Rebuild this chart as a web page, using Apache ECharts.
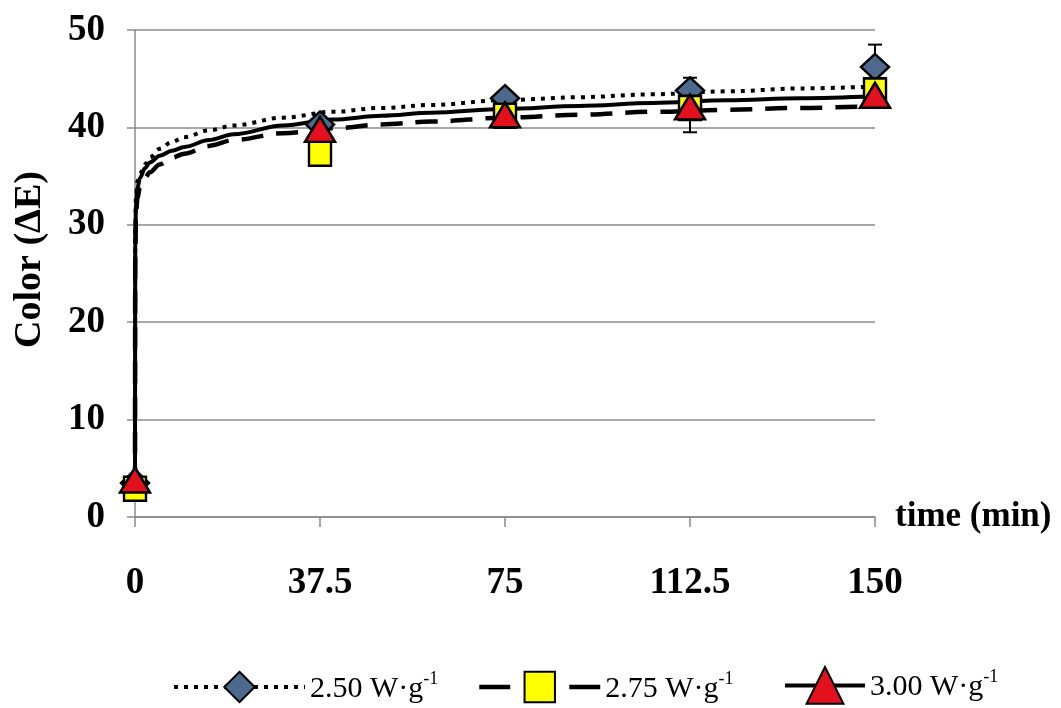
<!DOCTYPE html>
<html>
<head>
<meta charset="utf-8">
<script src="https://cdn.jsdelivr.net/npm/echarts@6/dist/echarts.min.js"></script>
<style>
  html, body { margin: 0; padding: 0; background: #fff; }
  #chart { width: 1061px; height: 708px; }
</style>
</head>
<body>
<div id="chart"></div>
<script>
// Sampling times (min) and measured colour change ΔE for each power level
const timePoints = [0, 37.5, 75, 112.5, 150];
const color250 = [3.5, 40.3, 43.0, 43.8, 46.2];
const color275 = [2.9, 37.3, 41.2, 42.0, 43.8];
const color300 = [3.8, 39.8, 41.3, 42.1, 43.3];

// Standard deviations of the measurements
const err250 = [0.4, 0.8, 0.6, 1.3, 2.3];
const err275 = [0.3, 0.6, 0.5, 2.5, 0.8];
const err300 = [0.4, 0.7, 0.6, 1.0, 0.7];

// Fitted kinetic curves, sampled along the time axis
const fitTime = [0, 0.05, 0.2, 0.5, 1, 2, 3, 5, 7.5, 10, 15, 20, 30, 40, 50, 60, 75, 90, 105, 120, 135, 150];
const fit250 = [3.5, 29, 33, 34.5, 35.2, 36.2, 36.9, 37.8, 38.5, 39.0, 39.7, 40.2, 41.0, 41.6, 42.0, 42.3, 42.8, 43.1, 43.4, 43.7, 44.0, 44.2];
const fit275 = [2.9, 27, 31, 32.8, 33.8, 34.8, 35.4, 36.2, 36.9, 37.3, 38.1, 38.7, 39.4, 39.9, 40.3, 40.6, 41.0, 41.3, 41.6, 41.8, 42.0, 42.2];
const fit300 = [3.8, 28, 32, 33.8, 34.8, 35.8, 36.4, 37.1, 37.6, 38.0, 38.7, 39.3, 40.2, 40.8, 41.2, 41.5, 41.9, 42.2, 42.5, 42.8, 43.0, 43.2];

// Axis ticks
const xTicks = [0, 37.5, 75, 112.5, 150];
const yTicks = [0, 10, 20, 30, 40, 50];

const seriesNames = ['2.50 W·g-1', '2.75 W·g-1', '3.00 W·g-1'];

const FONT = '"Liberation Serif", "Times New Roman", serif';

function pairs(xs, ys) { return xs.map((x, i) => [x, ys[i]]); }
function errData(xs, ys, es) { return xs.map((x, i) => [x, ys[i] - es[i], ys[i] + es[i]]); }

function errorBars(name, data) {
  return {
    type: 'custom',
    name: name,
    z: 3,
    data: data,
    renderItem: function (params, api) {
      const x = api.value(0);
      const lo = api.coord([x, api.value(1)]);
      const hi = api.coord([x, api.value(2)]);
      const cap = 7;
      const style = { stroke: '#000', lineWidth: 2 };
      return {
        type: 'group',
        children: [
          { type: 'line', shape: { x1: lo[0], y1: lo[1], x2: hi[0], y2: hi[1] }, style: style },
          { type: 'line', shape: { x1: lo[0] - cap, y1: lo[1], x2: lo[0] + cap, y2: lo[1] }, style: style },
          { type: 'line', shape: { x1: hi[0] - cap, y1: hi[1], x2: hi[0] + cap, y2: hi[1] }, style: style }
        ]
      };
    }
  };
}

const styles = [
  { symbol: 'diamond', size: [28, 26], fill: '#4d6a8e', line: { type: [4, 6], width: 4 } },
  { symbol: 'rect', size: [22, 24], fill: '#ffff00', line: { type: [22, 13], width: 4.5 } },
  { symbol: 'triangle', size: [30, 25], fill: '#e3101e', line: { type: 'solid', width: 4 } }
];
const fits = [fit250, fit275, fit300];
const points = [color250, color275, color300];
const errs = [err250, err275, err300];

const series = [];
// fitted curves (also provide the legend icons)
styles.forEach((s, i) => {
  series.push({
    type: 'line',
    name: seriesNames[i],
    z: 2,
    data: pairs(fitTime, fits[i]),
    smooth: 0.35,
    smoothMonotone: 'x',
    showSymbol: false,
    symbol: s.symbol,
    itemStyle: { color: s.fill, borderColor: '#000', borderWidth: 2.5 },
    lineStyle: { color: '#000', width: s.line.width, type: s.line.type, cap: 'butt' },
    emphasis: { disabled: true },
    silent: true
  });
});
// error bars
styles.forEach((s, i) => {
  series.push(errorBars(seriesNames[i], errData(timePoints, points[i], errs[i])));
});
// measured points
styles.forEach((s, i) => {
  series.push({
    type: 'scatter',
    name: seriesNames[i],
    z: 4,
    data: pairs(timePoints, points[i]),
    symbol: s.symbol,
    symbolSize: s.size,
    itemStyle: { color: s.fill, borderColor: '#000', borderWidth: 2.5, opacity: 1 },
    emphasis: { disabled: true },
    silent: true
  });
});

function legendFormatter(name) {
  const base = name.replace('-1', '');
  return '{t|' + base + '}{s|-1}';
}
const legendText = {
  fontFamily: FONT,
  color: '#000',
  rich: {
    t: { fontFamily: FONT, fontSize: 30, lineHeight: 34, color: '#000', verticalAlign: 'bottom' },
    s: { fontFamily: FONT, fontSize: 18, lineHeight: 34, color: '#000', verticalAlign: 'top', padding: [0, 0, 12, 0] }
  }
};
function legendAt(left, top, width, name, h, lineStyle) {
  return {
    left: left, top: top,
    padding: 0,
    orient: 'horizontal',
    data: [name],
    itemWidth: width, itemHeight: h,
    itemGap: 0,
    selectedMode: false,
    formatter: legendFormatter,
    textStyle: legendText,
    lineStyle: lineStyle
  };
}

const chart = echarts.init(document.getElementById('chart'), null, { renderer: 'canvas' });
chart.setOption({
  animation: false,
  backgroundColor: '#fff',
  grid: { left: 135, right: 186, top: 30, bottom: 191, containLabel: false, outerBoundsMode: 'none' },
  legend: [
    legendAt(172, 670, 131, seriesNames[0], 38, { width: 4, type: [4, 6], cap: 'butt' }),
    legendAt(477, 670, 121, seriesNames[1], 38, { width: 4.5, type: [31, 59], cap: 'butt' }),
    legendAt(783, 666, 80, seriesNames[2], 46, { width: 4, type: 'solid' })
  ],
  xAxis: {
    type: 'value',
    min: xTicks[0], max: xTicks[xTicks.length - 1], interval: 37.5,
    name: 'time (min)',
    nameLocation: 'end',
    nameGap: 20,
    nameTextStyle: { fontFamily: FONT, fontWeight: 'bold', fontSize: 35, color: '#000', verticalAlign: 'middle' },
    axisLine: { show: true, lineStyle: { color: '#8a8a8a', width: 1.5 } },
    axisTick: { show: true, length: 10, lineStyle: { color: '#8a8a8a', width: 1.5 } },
    axisLabel: {
      margin: 48,
      fontFamily: FONT, fontWeight: 'bold', fontSize: 37, color: '#000',
      formatter: v => String(v)
    },
    splitLine: { show: false }
  },
  yAxis: {
    type: 'value',
    min: yTicks[0], max: yTicks[yTicks.length - 1], interval: 10,
    name: 'Color (ΔE)',
    nameLocation: 'middle',
    nameRotate: 90,
    nameGap: 86,
    nameTextStyle: { fontFamily: FONT, fontWeight: 'bold', fontSize: 38, color: '#000', padding: [0, 0, 0, 28] },
    axisLine: { show: true, lineStyle: { color: '#8a8a8a', width: 1.5 } },
    axisTick: { show: true, length: 8, lineStyle: { color: '#8a8a8a', width: 1.5 } },
    axisLabel: { margin: 30, fontFamily: FONT, fontWeight: 'bold', fontSize: 37, color: '#000' },
    splitLine: { show: true, lineStyle: { color: '#8a8a8a', width: 1.5 } }
  },
  series: series
});
</script>
</body>
</html>
